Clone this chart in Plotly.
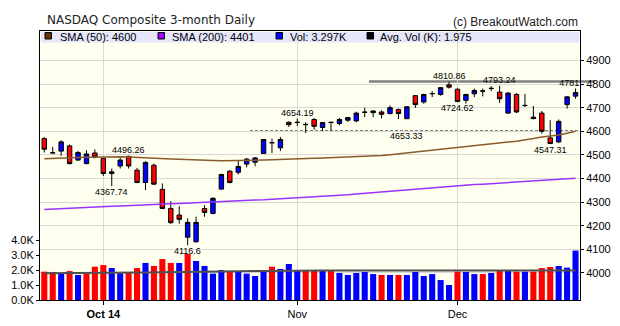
import plotly.graph_objects as go

# ---------------- data ----------------
dates = [
    "2014-09-22", "2014-09-23", "2014-09-24", "2014-09-25", "2014-09-26", "2014-09-29", "2014-09-30",
    "2014-10-01", "2014-10-02", "2014-10-03", "2014-10-06", "2014-10-07", "2014-10-08", "2014-10-09",
    "2014-10-10", "2014-10-13", "2014-10-14", "2014-10-15", "2014-10-16", "2014-10-17", "2014-10-20",
    "2014-10-21", "2014-10-22", "2014-10-23", "2014-10-24", "2014-10-27", "2014-10-28", "2014-10-29",
    "2014-10-30", "2014-10-31",
    "2014-11-03", "2014-11-04", "2014-11-05", "2014-11-06", "2014-11-07", "2014-11-10", "2014-11-11",
    "2014-11-12", "2014-11-13", "2014-11-14", "2014-11-17", "2014-11-18", "2014-11-19", "2014-11-20",
    "2014-11-21", "2014-11-24", "2014-11-25", "2014-11-26", "2014-11-28",
    "2014-12-01", "2014-12-02", "2014-12-03", "2014-12-04", "2014-12-05", "2014-12-08", "2014-12-09",
    "2014-12-10", "2014-12-11", "2014-12-12", "2014-12-15", "2014-12-16", "2014-12-17", "2014-12-18",
    "2014-12-19",
]

opens = [4569, 4508, 4516, 4538, 4478, 4463, 4508, 4485, 4421, 4453,
         4494, 4435, 4383, 4456, 4354, 4273, 4245, 4151, 4132, 4273,
         4252, 4355, 4431, 4426, 4461, 4469, 4506, 4551, 4530, 4638,
         4637, 4628, 4650, 4616, 4637, 4633, 4647, 4644, 4680, 4679,
         4682, 4675, 4692, 4653.33, 4751, 4724, 4759, 4756, 4797, 4778,
         4731, 4759, 4770, 4781, 4766, 4677, 4756, 4710, 4660, 4677,
         4572, 4555, 4713, 4749]
highs = [4575, 4534, 4562, 4544, 4517, 4520, 4523, 4488, 4442, 4489,
         4496.26, 4445, 4473, 4463, 4379, 4304, 4283, 4231, 4238, 4287,
         4320, 4420, 4435, 4475, 4487, 4491, 4567, 4569, 4576, 4642,
         4654.19, 4638, 4656, 4639, 4640, 4656, 4661, 4683, 4700, 4688,
         4689, 4710, 4697, 4706, 4753, 4759, 4770, 4788, 4810.86, 4783,
         4759, 4781, 4781, 4791, 4793.24, 4765, 4762, 4759, 4707, 4686,
         4647, 4650, 4748, 4781.42]
lows = [4510, 4507, 4496, 4460, 4475, 4460, 4485, 4411, 4367.74, 4442,
        4442, 4380, 4351, 4372, 4270, 4207, 4208, 4116.6, 4128, 4238,
        4248, 4352, 4379, 4417, 4447, 4452, 4504, 4508, 4516, 4618,
        4623, 4593, 4607, 4601, 4602, 4625, 4640, 4639, 4660, 4660,
        4654, 4672, 4652, 4653.33, 4699, 4717, 4745, 4751, 4781, 4724.62,
        4717, 4745, 4748, 4770, 4720, 4675, 4677, 4703, 4650, 4590,
        4547.31, 4551, 4696, 4738]
closes = [4524, 4509, 4555, 4463, 4510, 4504, 4491, 4421, 4428, 4478,
          4453, 4383, 4468, 4376, 4273, 4213, 4227, 4214, 4214, 4256,
          4316, 4417, 4383, 4451, 4482, 4487, 4565, 4552, 4565, 4628,
          4638, 4629, 4621, 4637, 4638, 4650, 4658, 4677, 4681, 4686,
          4672, 4700, 4675, 4704, 4713, 4756, 4760, 4785, 4787, 4726,
          4756, 4773, 4771, 4782, 4738, 4762, 4682, 4709, 4654, 4600,
          4548, 4642, 4746, 4764]

volume_k = [1.89, 1.87, 1.76, 1.93, 1.67, 1.76, 2.22, 2.33, 2.13, 1.78,
            1.80, 2.13, 2.47, 2.27, 2.73, 2.47, 2.47, 3.07, 2.60, 2.27,
            1.76, 2.00, 1.93, 1.93, 1.76, 1.60, 1.93, 2.22, 2.07, 2.40,
            2.00, 1.98, 2.00, 2.00, 2.00, 1.80, 1.67, 1.80, 1.87, 1.73,
            1.67, 1.67, 1.67, 1.67, 1.87, 1.60, 1.73, 1.33, 1.00, 1.89,
            1.87, 1.73, 1.73, 1.80, 2.00, 1.93, 1.89, 1.89, 1.89, 2.13,
            2.20, 2.27, 2.16, 3.297]
volume_up = "rrbrbrrrbbrrbrrrbrbbbbrbbbbrbbbrrbrbbbbbrbrbbbbbbrbbrbrbrbrrrbbb"

avg_vol_k = [1.78, 1.78, 1.79, 1.79, 1.79, 1.80, 1.80, 1.81, 1.81, 1.82,
             1.82, 1.83, 1.84, 1.85, 1.86, 1.87, 1.88, 1.89, 1.90, 1.91,
             1.91, 1.92, 1.92, 1.93, 1.93, 1.93, 1.94, 1.94, 1.95, 1.95,
             1.95, 1.96, 1.96, 1.96, 1.96, 1.97, 1.97, 1.97, 1.97, 1.97,
             1.97, 1.97, 1.96, 1.96, 1.96, 1.96, 1.95, 1.95, 1.95, 1.95,
             1.95, 1.95, 1.95, 1.95, 1.95, 1.95, 1.95, 1.96, 1.96, 1.96,
             1.96, 1.97, 1.97, 1.975]

sma50 = [4484, 4486, 4487, 4488, 4489, 4490, 4491, 4491, 4492, 4492,
         4491, 4490, 4489, 4487, 4485, 4483, 4481, 4479, 4478, 4477,
         4476, 4475, 4475, 4475, 4476, 4477, 4478, 4479, 4481, 4482,
         4484, 4485, 4486, 4487, 4488, 4489, 4490, 4491, 4492, 4494,
         4497, 4501, 4505, 4509, 4512, 4515, 4519, 4523, 4527, 4531,
         4535, 4539, 4543, 4547, 4552, 4555, 4558, 4562, 4569, 4576,
         4580, 4584, 4592, 4600]
sma200 = [4269, 4271, 4272, 4274, 4275, 4277, 4278, 4280, 4282, 4283,
          4285, 4286, 4288, 4290, 4291, 4293, 4294, 4296, 4298, 4299,
          4301, 4302, 4304, 4306, 4307, 4309, 4310, 4312, 4314, 4315,
          4317, 4319, 4320, 4322, 4325, 4328, 4331, 4334, 4337, 4340,
          4343, 4347, 4350, 4353, 4356, 4359, 4362, 4365, 4367, 4369,
          4371, 4374, 4376, 4378, 4380, 4383, 4385, 4387, 4389, 4391,
          4393, 4396, 4398, 4401]

label_dates = ["2014-10-06", "2014-10-02", "2014-10-15", "2014-11-03", "2014-11-20",
               "2014-11-28", "2014-12-01", "2014-12-08", "2014-12-16", "2014-12-19"]
label_values = [4496.26, 4367.74, 4116.6, 4654.19, 4653.33,
                4810.86, 4724.62, 4793.24, 4547.31, 4781.42]
label_above = [True, False, False, True, False, True, False, True, False, True]

resistance = 4810.86
support = 4601

price_ticks = [4000, 4100, 4200, 4300, 4400, 4500, 4600, 4700, 4800, 4900]
vol_ticks = [0, 1, 2, 3, 4]
vol_ticktext = ["0.0K", "1.0K", "2.0K", "3.0K", "4.0K"]
x_tickvals = ["2014-10-01", "2014-11-03", "2014-12-01"]
x_ticktext = ["<b>Oct 14</b>", "Nov", "Dec"]

legend_items = [("SMA (50): 4600", "#663300"), ("SMA (200): 4401", "#9900FF"),
                ("Vol: 3.297K", "#0000FF"), ("Avg. Vol (K): 1.975", "#000000")]

# ---------------- layout helpers (pixel -> paper) ----------------
L, R, T, B = 40, 580, 31, 300
def px(x):
    return (x - L) / (R - L)
def py(y):
    return (B - y) / (B - T)

FONT = "Liberation Sans, Arial, sans-serif"

def fmt(v):
    s = f"{v:.2f}"
    return s.rstrip("0").rstrip(".")

fig = go.Figure()

fig.add_trace(go.Bar(
    x=dates, y=volume_k,
    marker=dict(color=["#0000FF" if c == "b" else "#FF0000" for c in volume_up], line=dict(width=0)),
    yaxis="y", hoverinfo="skip", showlegend=False,
))
fig.add_trace(go.Scatter(
    x=dates, y=avg_vol_k, mode="lines", yaxis="y",
    line=dict(color="#505050", width=2), hoverinfo="skip", showlegend=False,
))
fig.add_trace(go.Candlestick(
    x=dates, open=opens, high=highs, low=lows, close=closes, yaxis="y2",
    increasing=dict(line=dict(color="black", width=1), fillcolor="#0000FF"),
    decreasing=dict(line=dict(color="black", width=1), fillcolor="#FF0000"),
    whiskerwidth=0, hoverinfo="skip", showlegend=False,
))
fig.add_trace(go.Scatter(
    x=dates, y=sma50, mode="lines", yaxis="y2",
    line=dict(color="#8B5A2B", width=1.5), hoverinfo="skip", showlegend=False,
))
fig.add_trace(go.Scatter(
    x=dates, y=sma200, mode="lines", yaxis="y2",
    line=dict(color="#9933FF", width=1.5), hoverinfo="skip", showlegend=False,
))

annotations = []
edge_x, edge_y = [], []
for d, v, up in zip(label_dates, label_values, label_above):
    if d == dates[-1]:
        # label at the right edge: drawn as clipped text so it hides behind the axis, as in the original
        edge_x.append(d)
        edge_y.append(v)
        continue
    shift = 6 if up else -6
    if v == support + 52.33:  # label kept below the dashed support line
        shift = -17
    annotations.append(dict(
        x=d, y=v, xref="x", yref="y2", text=fmt(v), showarrow=False,
        xanchor="center", yanchor="middle", yshift=shift,
        font=dict(family=FONT, size=9, color="black"),
    ))

fig.add_trace(go.Scatter(
    x=edge_x, y=edge_y, mode="text", yaxis="y2",
    text=[fmt(v) for v in edge_y], textposition="top center",
    textfont=dict(family=FONT, size=9, color="black"),
    cliponaxis=True, hoverinfo="skip", showlegend=False,
))

annotations += [
    dict(x=px(45), y=py(19.5), xref="paper", yref="paper", text="NASDAQ Composite 3-month Daily",
         showarrow=False, xanchor="left", yanchor="middle",
         font=dict(family="DejaVu Sans", size=12, color="#222222")),
    dict(x=px(579.5), y=py(22), xref="paper", yref="paper", text="(c) BreakoutWatch.com",
         showarrow=False, xanchor="right", yanchor="middle",
         font=dict(family=FONT, size=12, color="#222222")),
]

shapes = [
    dict(type="line", xref="paper", yref="y2", x0=px(369), x1=px(595), y0=resistance, y1=resistance,
         line=dict(color="#808080", width=2.5), layer="below"),
    dict(type="line", xref="paper", yref="y2", x0=px(250), x1=1, y0=support, y1=support,
         line=dict(color="#808080", width=2, dash="3px,2px"), layer="below"),
    dict(type="rect", xref="paper", yref="paper", x0=px(41), x1=px(579), y0=py(42.5), y1=py(32),
         fillcolor="#E6E6FA", line=dict(width=0), layer="above"),
]

swatch_x = [45, 158, 276, 367]
text_x = [57.5, 170, 287.5, 377.5]
for (txt, col), sx, tx in zip(legend_items, swatch_x, text_x):
    shapes.append(dict(type="rect", xref="paper", yref="paper",
                       x0=px(sx), x1=px(sx + 6.5), y0=py(39), y1=py(32.5),
                       fillcolor=col, line=dict(color="black", width=1), layer="above"))
    annotations.append(dict(x=px(tx), y=py(36.5), xref="paper", yref="paper", text=txt,
                            showarrow=False, xanchor="left", yanchor="middle",
                            font=dict(family=FONT, size=11, color="black")))

fig.update_layout(
    width=620, height=326, autosize=False,
    margin=dict(l=L, r=620 - R, t=T, b=326 - B, pad=0),
    paper_bgcolor="white", plot_bgcolor="#FFFFF0",
    boxgap=0.25, bargap=0.28,
    showlegend=False,
    xaxis=dict(
        type="category", range=[-0.51, 63.53], tickvals=x_tickvals, ticktext=x_ticktext,
        showgrid=True, gridcolor="#D8D8D8", gridwidth=1, automargin=False,
        ticks="outside", ticklen=4, tickcolor="black",
        showline=True, linecolor="black", linewidth=1, mirror=True,
        tickfont=dict(family=FONT, size=11, color="black"),
        rangeslider=dict(visible=False), fixedrange=True,
    ),
    yaxis=dict(
        range=[0, (B - T) / 15.0], tickvals=vol_ticks, ticktext=vol_ticktext,
        showgrid=False, zeroline=False, automargin=False,
        ticks="outside", ticklen=3, tickcolor="black",
        showline=True, linecolor="black", linewidth=1, mirror=True,
        tickfont=dict(family=FONT, size=11, color="black"),
    ),
    yaxis2=dict(
        overlaying="y", side="right", range=[3885, 5025], tickvals=price_ticks,
        showgrid=True, gridcolor="#D8D8D8", gridwidth=1, zeroline=False, automargin=False,
        ticks="outside", ticklen=3, tickcolor="black",
        showline=True, linecolor="black", linewidth=1,
        tickfont=dict(family=FONT, size=11, color="black"),
    ),
    annotations=annotations,
    shapes=shapes,
)

fig.write_html("out.html")
